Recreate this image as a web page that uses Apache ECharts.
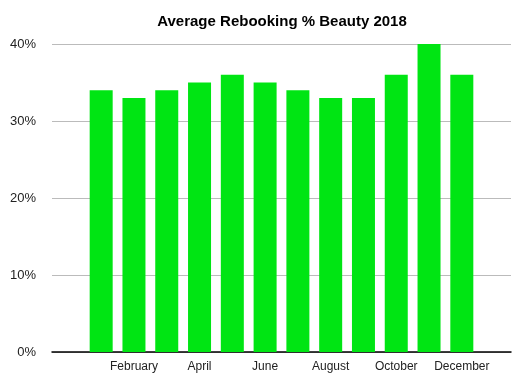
<!DOCTYPE html>
<html>
<head>
<meta charset="utf-8">
<script src="https://cdn.jsdelivr.net/npm/echarts@6/dist/echarts.min.js"></script>
<style>html,body{margin:0;padding:0;background:#fff}#c{width:522px;height:385px}</style>
</head>
<body>
<div id="c"></div>
<script>
var months = ['January','February','March','April','May','June','July','August','September','October','November','December'];
var rebooking = [34, 33, 34, 35, 36, 35, 34, 33, 33, 36, 40, 36];
var yTicks = [0, 10, 20, 30, 40];

// pad one empty slot on each side of the category axis
var cats = [''].concat(months).concat(['']);
var vals = ['-'].concat(rebooking).concat(['-']);

var chart = echarts.init(document.getElementById('c'));
chart.setOption({
  animation: false,
  title: {
    text: 'Average Rebooking % Beauty 2018',
    left: 277, top: 9, textAlign: 'center',
    textStyle: {fontFamily: 'Liberation Sans, Arial, sans-serif', fontSize: 15, fontWeight: 'bold', color: '#000'}
  },
  grid: {left: 52, right: 11, top: 44, bottom: 33, containLabel: false},
  xAxis: {
    type: 'category',
    data: cats,
    axisLine: {lineStyle: {color: '#000', width: 1.5}},
    axisTick: {show: false},
    axisLabel: {
      interval: 0,
      formatter: function (v, i) { return (i % 2 === 0 && v) ? v : ''; },
      fontFamily: 'Liberation Sans, Arial, sans-serif', fontSize: 12, color: '#222', margin: 9
    }
  },
  yAxis: {
    type: 'value',
    min: yTicks[0], max: yTicks[yTicks.length - 1], interval: 10,
    axisLine: {show: false},
    axisTick: {show: false},
    splitLine: {lineStyle: {color: '#bbbbbb', width: 1}},
    axisLabel: {
      formatter: '{value}%',
      fontFamily: 'Liberation Sans, Arial, sans-serif', fontSize: 13, color: '#222', margin: 16
    }
  },
  series: [{
    type: 'bar',
    data: vals,
    barWidth: 23,
    itemStyle: {color: '#00e513'}
  }]
});
</script>
</body>
</html>
